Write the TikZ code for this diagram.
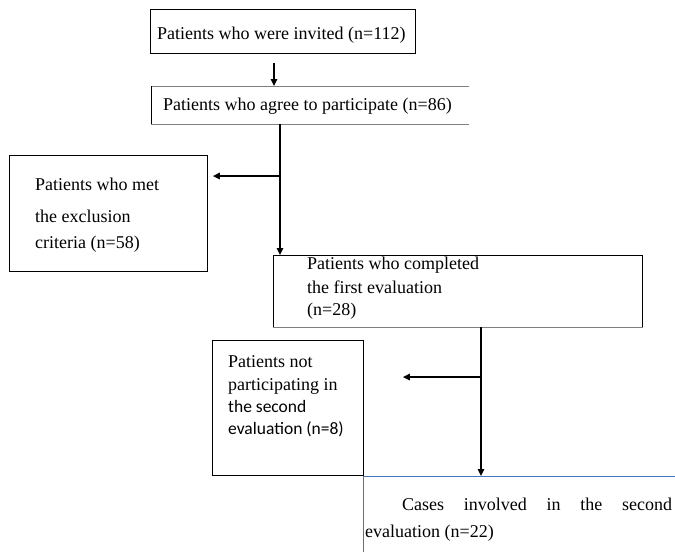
\documentclass[tikz,border=0pt]{standalone}
\usepackage{fontspec}
\setmainfont{Liberation Serif}
\newfontfamily\calfont{Carlito}
\usetikzlibrary{arrows.meta,calc}
\definecolor{boxblue}{HTML}{4472C4}
\definecolor{boxgrey}{HTML}{7F7F7F}
\begin{document}
\begin{tikzpicture}[x=1pt,y=-1pt,
  box/.style={draw=black,line width=0.9pt,inner sep=0pt,anchor=north west},
  frame/.style={inner sep=0pt,anchor=north west},
  txt/.style={anchor=base west,inner sep=0pt,font=\fontsize{18}{22}\selectfont},
  sanstxt/.style={anchor=base west,inner sep=0pt,font=\calfont\fontsize{17.5}{21}\selectfont},
  arr/.style={line width=1.4pt,-{Triangle[length=7pt,width=6.5pt]}},
  edge/.style={line width=0.9pt}]
\useasboundingbox (0,0) rectangle (675,552);
\fill[white] (0,0) rectangle (675,552);

% box 1
\node[box,minimum width=265pt,minimum height=44pt] (b1) at (150,9) {};
\node[txt] (t1) at (157,39) {Patients who were invited (n=112)};

% box 2
\node[frame,minimum width=318pt,minimum height=38pt] (b2) at (151,86) {};
\draw[edge,draw=boxgrey] (b2.north east) -- (b2.north west);
\draw[edge] (b2.north west) -- (b2.south west);
\draw[edge,draw=boxgrey] (b2.south west) -- (b2.south east);
\node[txt] (t2) at (163,110) {Patients who agree to participate (n=86)};

% exclusion box
\node[box,minimum width=198pt,minimum height=116pt] (bx) at (9,155) {};
\node[txt] (tx1) at (35,190) {Patients who met};
\node[txt] (tx2) at (35,222) {the exclusion};
\node[txt] (tx3) at (35,248) {criteria (n=58)};

% box 3
\node[box,minimum width=369pt,minimum height=72pt] (b3) at (273,255) {};
\draw[edge,draw=boxgrey] (b3.south west) -- (b3.south east);
\node[txt] (t31) at (307,269) {Patients who completed};
\node[txt] (t32) at (307,293) {the first evaluation};
\node[txt] (t33) at (307,315) {(n=28)};

% box 4
\node[box,minimum width=151pt,minimum height=135pt] (b4) at (212,340) {};
\node[txt] (t41) at (228,367) {Patients not};
\node[txt] (t42) at (228,390) {participating in};
\node[sanstxt] (t43) at (228,412) {the second};
\node[sanstxt] (t44) at (228,434) {evaluation (n=8)};

% box 5 (cut off at the page edges)
\coordinate (b5nw) at (363,476);
\coordinate (b5sw) at (363,552);
\coordinate (b5ne) at (675,476);
\draw[line width=0.8pt,draw=boxblue] (b5sw) -- (b5nw) -- (b5ne);
\node[txt] (t51) at (402,510) {\makebox[270pt][s]{Cases involved in the second}};
\node[txt] (t52) at (365,537) {evaluation (n=22)};

% connectors
\coordinate (a1s) at (274,63);
\draw[arr] (a1s) -- (a1s |- b2.north);

\coordinate (v2) at (280,124);
\draw[arr] (v2) -- (v2 |- b3.north);
\coordinate (br1) at (280,176);
\draw[arr,shorten >=5pt] (br1) -- (br1 -| bx.east);

\coordinate (v3) at (481,327);
\draw[arr] (v3) -- (v3 |- b5nw);
\coordinate (br2) at (481,377);
\draw[arr,shorten >=39pt] (br2) -- (br2 -| b4.east);
\end{tikzpicture}
\end{document}
